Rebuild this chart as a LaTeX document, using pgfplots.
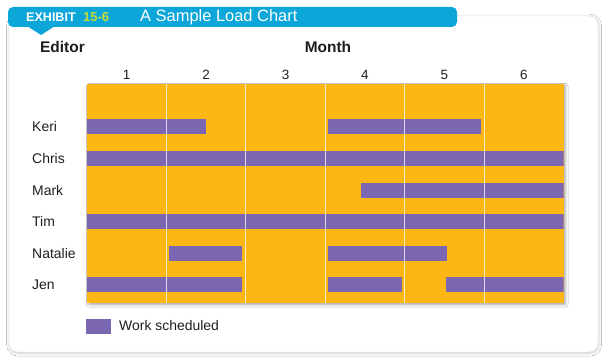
\documentclass[border=0pt]{standalone}
\usepackage{fontspec}
\setmainfont{Liberation Sans}
\usepackage{pgfplots}
\pgfplotsset{compat=1.18}
\usetikzlibrary{shadows.blur}
\definecolor{chartorange}{HTML}{FDB714}
\definecolor{work}{HTML}{7B66B1}
\definecolor{exblue}{HTML}{0CA6D9}
\definecolor{exgreen}{HTML}{C8DC3A}
\definecolor{txt}{HTML}{1E1E1E}
\begin{document}
\begin{tikzpicture}[x=1bp,y=1bp]
\path[use as bounding box] (0,0) rectangle (614,363);
\fill[white] (0,0) rectangle (614,363);
% card
\path[fill=white, draw=gray!22, rounded corners=9bp,
  blur shadow={shadow xshift=0.6bp, shadow yshift=-1.2bp, shadow blur radius=3bp, shadow opacity=22}]
  (9,11) rectangle (598,347);
% header tab
\fill[exblue, rounded corners=5bp] (8,336) rectangle (457,356);
\fill[exblue] (27,337) -- (55,337) -- (41,328) -- cycle;
\node[anchor=base west, inner sep=0pt, text=white, font=\bfseries\fontsize{12.6}{14}\selectfont] at (26,342) {EXHIBIT};
\node[anchor=base west, inner sep=0pt, text=exgreen, font=\bfseries\fontsize{13}{14}\selectfont] at (83,342) {15-6};
\node[anchor=base west, inner sep=0pt, text=white, font=\fontsize{16.5}{18}\selectfont] at (140,342) {A Sample Load Chart};
% headings
\node[anchor=base west, inner sep=0pt, text=txt, font=\bfseries\fontsize{15.5}{17}\selectfont] at (40,310.3) {Editor};
\node[anchor=base, inner sep=0pt, text=txt, font=\bfseries\fontsize{15.5}{17}\selectfont] at (328,310.3) {Month};
\begin{axis}[
  at={(87bp,60.3bp)}, anchor=south west,
  scale only axis, width=476.5bp, height=218.7bp,
  xmin=0, xmax=6, ymin=-0.56, ymax=6.35,
  axis background/.style={fill=chartorange,
    blur shadow={shadow xshift=2bp, shadow yshift=-2bp, shadow blur radius=2.5bp, shadow opacity=35}},
  axis line style={draw=none},
  axis on top,
  xtick={0.5,1.5,2.5,3.5,4.5,5.5},
  xticklabels={1,2,3,4,5,6},
  xticklabel pos=top,
  minor xtick={1,2,3,4,5},
  xminorgrids=true,
  minor grid style={draw=white, opacity=0.75, line width=0.9bp},
  major tick length=0pt, minor tick length=0pt,
  tick style={draw=none},
  ytick={0,1,2,3,4,5},
  yticklabels={Jen,Natalie,Tim,Mark,Chris,Keri},
  yticklabel style={anchor=west, xshift=-55bp, inner sep=0pt, text=txt,
    font=\fontsize{14}{16}\selectfont},
  xticklabel style={anchor=base, inner sep=0pt, yshift=4bp, text=txt,
    font=\fontsize{13.5}{15}\selectfont},
  legend style={at={(0,0)}, anchor=north west, xshift=-1bp, yshift=-16bp,
    draw=none, fill=none, inner sep=0pt, column sep=8bp,
    font=\fontsize{14}{16}\selectfont, nodes={inner sep=0pt, text=txt}},
  legend image code/.code={\path[fill=work, draw=none] (0bp,-7.5bp) rectangle (25bp,7.5bp);},
  work bar/.style={draw=work, line width=15bp, line cap=butt, mark=none},
]
% Keri (y=5)
\addplot[work bar] coordinates {(0,5) (1.5,5)};
\addlegendentry{Work scheduled}
\addplot[work bar, forget plot] coordinates {(3.04,5) (4.96,5)};
% Chris (y=4)
\addplot[work bar, forget plot] coordinates {(0,4) (6,4)};
% Mark (y=3)
\addplot[work bar, forget plot] coordinates {(3.45,3) (6,3)};
% Tim (y=2)
\addplot[work bar, forget plot] coordinates {(0,2) (6,2)};
% Natalie (y=1)
\addplot[work bar, forget plot] coordinates {(1.03,1) (1.95,1)};
\addplot[work bar, forget plot] coordinates {(3.04,1) (4.53,1)};
% Jen (y=0)
\addplot[work bar, forget plot] coordinates {(0,0) (1.95,0)};
\addplot[work bar, forget plot] coordinates {(3.04,0) (3.97,0)};
\addplot[work bar, forget plot] coordinates {(4.52,0) (6,0)};
\end{axis}
\end{tikzpicture}
\end{document}
